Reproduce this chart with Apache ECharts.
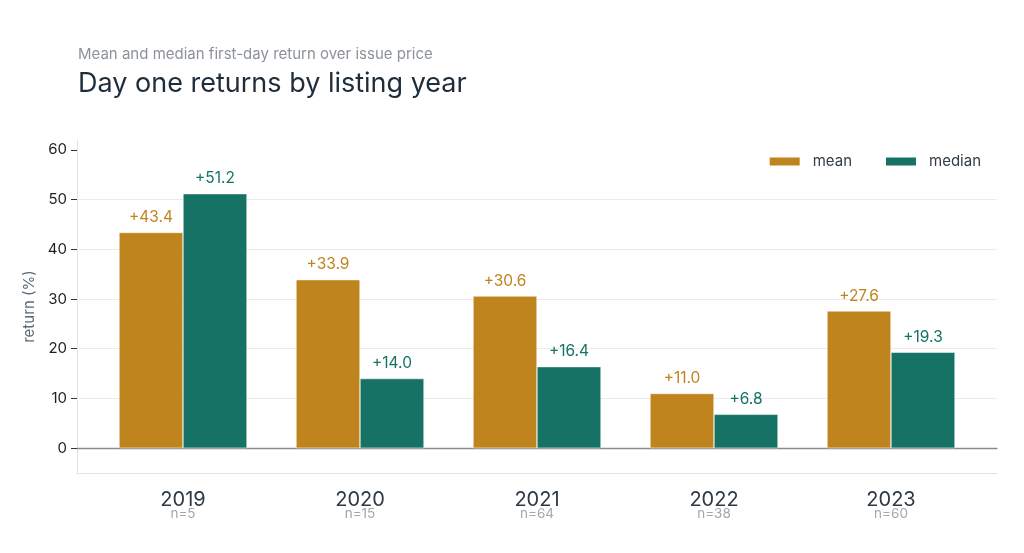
<!DOCTYPE html>
<html style="height: 100%">
<head>
<meta charset="utf-8">
</head>
<body style="height: 100%; margin: 0; background: #fff">
<div id="container" style="height: 100%"></div>
<script src="https://cdn.jsdelivr.net/npm/echarts@6/dist/echarts.min.js"></script>
<script>
var years = ['2019', '2020', '2021', '2022', '2023'];
var counts = [5, 15, 64, 38, 60];
var meanReturn = [43.4, 33.9, 30.6, 11.0, 27.6];
var medianReturn = [51.2, 14.0, 16.4, 6.8, 19.3];
var yTicks = [0, 10, 20, 30, 40, 50, 60];

var meanColor = '#C0841F';
var medianColor = '#167264';
var font = 'Inter';

var yMin = -5, yMax = 62;
var plotTop = 140, plotBottom = 80;

var myChart = echarts.init(document.getElementById('container'));

function signed(v) {
    return (v >= 0 ? '+' : '') + v.toFixed(1);
}

var option = {
    backgroundColor: '#fff',
    textStyle: {fontFamily: font},
    title: [
        {
            text: 'Mean and median first-day return over issue price',
            left: 73, top: 42,
            textStyle: {fontFamily: font, fontSize: 15, fontWeight: 'normal', color: '#8c9299'}
        },
        {
            text: 'Day one returns by listing year',
            left: 73, top: 65,
            textStyle: {fontFamily: font, fontSize: 27, fontWeight: 'normal', color: '#1f2d3a'}
        }
    ],
    legend: {
        data: ['mean', 'median'],
        right: 38, top: 149,
        itemWidth: 32, itemHeight: 10, itemGap: 32,
        icon: 'rect',
        textStyle: {fontFamily: font, fontSize: 15, color: '#333d47', padding: [0, 0, 0, 7]}
    },
    grid: [
        // frame, y axis, gridlines
        {left: 77, right: 27, top: plotTop, bottom: plotBottom},
        // bars
        {left: 94.5, right: 44.5, top: plotTop, bottom: plotBottom},
        // zero line
        {left: 77, right: 27, top: plotTop, bottom: plotBottom}
    ],
    xAxis: [
        {
            gridIndex: 0, type: 'value', min: 0, max: 1,
            axisLine: {show: true, onZero: false, lineStyle: {color: '#e2e2de', width: 1}},
            axisTick: {show: false}, axisLabel: {show: false}, splitLine: {show: false}
        },
        {
            gridIndex: 1, type: 'category', data: years,
            axisLine: {show: false, onZero: false},
            axisTick: {show: false},
            axisLabel: {
                margin: 19,
                formatter: function (v, i) {
                    return '{y|' + v + '}\n{n|n=' + counts[i] + '}';
                },
                rich: {
                    y: {fontFamily: font, fontSize: 20, lineHeight: 15, color: '#2d3a45'},
                    n: {fontFamily: font, fontSize: 13.5, lineHeight: 14, color: '#a3a7ab'}
                }
            }
        },
        {
            gridIndex: 2, type: 'value', min: 0, max: 1,
            axisLine: {show: true, onZero: true, lineStyle: {color: '#868c92', width: 1.3}},
            axisTick: {show: false}, axisLabel: {show: false}, splitLine: {show: false}
        }
    ],
    yAxis: [
        {
            gridIndex: 0, type: 'value', min: yMin, max: yMax,
            name: 'return (%)', nameLocation: 'middle', nameGap: 36,
            nameTextStyle: {fontFamily: font, fontSize: 15, color: '#5d6975'},
            axisLine: {show: true, lineStyle: {color: '#e2e2de'}},
            axisTick: {show: true, length: 6, customValues: yTicks, lineStyle: {color: '#333'}},
            axisLabel: {margin: 10, customValues: yTicks, fontFamily: font, fontSize: 15, color: '#1e1e1e'},
            splitLine: {show: true, showMinLine: false, showMaxLine: false, lineStyle: {color: '#ebebe7', width: 1}}
        },
        {
            gridIndex: 1, type: 'value', min: yMin, max: yMax, show: false,
            splitLine: {show: false}
        },
        {
            gridIndex: 2, type: 'value', min: yMin, max: yMax, show: false,
            splitLine: {show: false}
        }
    ],
    series: [
        {
            name: 'mean', type: 'bar', xAxisIndex: 1, yAxisIndex: 1,
            data: meanReturn, barWidth: 64, barGap: '0%',
            itemStyle: {color: meanColor, borderColor: '#fff', borderWidth: 0.5},
            label: {
                show: true, position: 'top', distance: 7,
                fontFamily: font, fontSize: 15.5, color: meanColor,
                formatter: function (p) { return signed(p.value); }
            }
        },
        {
            name: 'median', type: 'bar', xAxisIndex: 1, yAxisIndex: 1,
            data: medianReturn, barWidth: 64, barGap: '0%',
            itemStyle: {color: medianColor, borderColor: '#fff', borderWidth: 0.5},
            label: {
                show: true, position: 'top', distance: 7,
                fontFamily: font, fontSize: 15.5, color: medianColor,
                formatter: function (p) { return signed(p.value); }
            }
        }
    ]
};

myChart.setOption(option);
</script>
</body>
</html>
